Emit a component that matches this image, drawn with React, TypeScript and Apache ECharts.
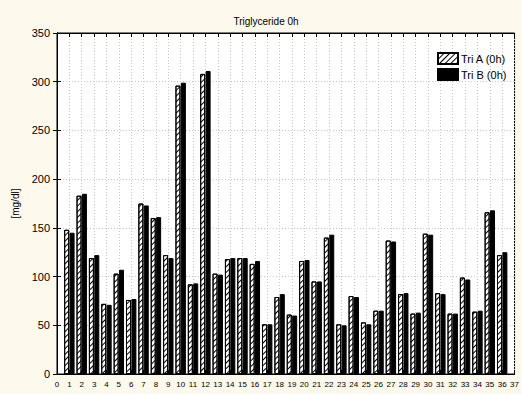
import React, { useEffect, useRef } from "react";
import * as echarts from "echarts";

const subjects = [1, 2, 3, 4, 5, 6, 7, 8, 9, 10, 11, 12, 13, 14, 15, 16, 17, 18, 19, 20, 21, 22, 23, 24, 25, 26, 27, 28, 29, 30, 31, 32, 33, 34, 35, 36];
const triA = [148, 183, 119, 72, 103, 76, 175, 160, 122, 296, 92, 308, 103, 118, 119, 113, 51, 79, 61, 116, 95, 140, 51, 80, 53, 65, 137, 82, 62, 144, 83, 62, 99, 64, 166, 122];
const triB = [145, 185, 122, 71, 107, 77, 173, 161, 119, 299, 93, 311, 102, 119, 119, 116, 51, 82, 60, 117, 95, 143, 50, 79, 51, 65, 136, 83, 63, 143, 82, 62, 97, 65, 168, 125];
const yTicks = { min: 0, max: 350, interval: 50 };
const xTicks = { min: 0, max: 37, interval: 1 };

export default function App() {
  const ref = useRef<HTMLDivElement>(null);
  useEffect(() => {
    if (!ref.current) return;
    const chart = echarts.init(ref.current, null, { renderer: "svg" });
    const font = "Liberation Sans, Arial, sans-serif";
    const grid = "#c8c8c8";
    const xAxisBase = {
      type: "value",
      min: xTicks.min,
      max: xTicks.max,
      interval: xTicks.interval,
      axisLine: { show: true, onZero: false, lineStyle: { color: "#000", width: 1 } },
      axisTick: { show: true, inside: true, length: 4, lineStyle: { color: "#000" } },
    };
    const yAxisBase = {
      type: "value",
      min: yTicks.min,
      max: yTicks.max,
      interval: yTicks.interval,
      axisLine: { show: true, lineStyle: { color: "#000", width: 1 } },
      axisTick: { show: true, inside: true, length: 4, lineStyle: { color: "#000" } },
    };
    const hatch = {
      symbol: "rect",
      symbolSize: 1,
      color: "#000",
      dashArrayX: [1, 0],
      dashArrayY: [1, 3],
      rotation: -Math.PI / 4,
    };
    chart.setOption({
      animation: false,
      backgroundColor: "#fdf9ec",
      textStyle: { fontFamily: font },
      title: {
        text: "Triglyceride 0h",
        left: 261,
        textAlign: "center",
        top: 11,
        textStyle: { fontSize: 10, fontWeight: "normal", color: "#000", fontFamily: font },
      },
      legend: {
        orient: "vertical",
        left: 432,
        top: 47,
        icon: "rect",
        itemWidth: 20,
        itemHeight: 11,
        itemGap: 3,
        textStyle: { fontSize: 11, color: "#000", fontFamily: font, padding: [0, 0, 0, -2] },
        data: ["Tri A (0h)", "Tri B (0h)"],
      },
      grid: {
        left: 57,
        top: 33,
        right: 3,
        bottom: 20,
        show: true,
        backgroundColor: "#ffffff",
        borderColor: "#000",
        borderWidth: 1,
      },
      xAxis: [
        {
          ...xAxisBase,
          position: "bottom",
          axisLabel: { fontSize: 8, color: "#000", margin: 6, fontFamily: font },
          splitLine: { show: true, lineStyle: { color: grid, type: [1, 2], width: 1 } },
        },
        {
          ...xAxisBase,
          position: "top",
          axisLabel: { show: false },
          splitLine: { show: false },
        },
      ],
      yAxis: [
        {
          ...yAxisBase,
          position: "left",
          name: "[mg/dl]",
          nameLocation: "middle",
          nameGap: 34,
          nameTextStyle: { fontSize: 10, color: "#000", fontFamily: font },
          axisLabel: { fontSize: 11, color: "#000", margin: 7, fontFamily: font },
          splitLine: { show: true, lineStyle: { color: grid, type: [1, 2], width: 1 } },
        },
        {
          ...yAxisBase,
          position: "right",
          axisLabel: { show: false },
          splitLine: { show: false },
        },
      ],
      series: [
        {
          name: "Tri A (0h)",
          type: "bar",
          xAxisIndex: 0,
          yAxisIndex: 0,
          barWidth: 5,
          barGap: "8%",
          data: subjects.map((s, i) => [s, triA[i]]),
          itemStyle: {
            color: "#ffffff",
            borderColor: "#000",
            borderWidth: 1,
            decal: hatch,
          },
        },
        {
          name: "Tri B (0h)",
          type: "bar",
          xAxisIndex: 0,
          yAxisIndex: 0,
          barWidth: 5,
          data: subjects.map((s, i) => [s, triB[i]]),
          itemStyle: { color: "#000", borderColor: "#000", borderWidth: 1 },
        },
      ],
    });
    return () => chart.dispose();
  }, []);
  return (
    <div
      ref={ref}
      style={{ position: "fixed", left: 0, top: 0, width: 522, height: 394 }}
    />
  );
}
